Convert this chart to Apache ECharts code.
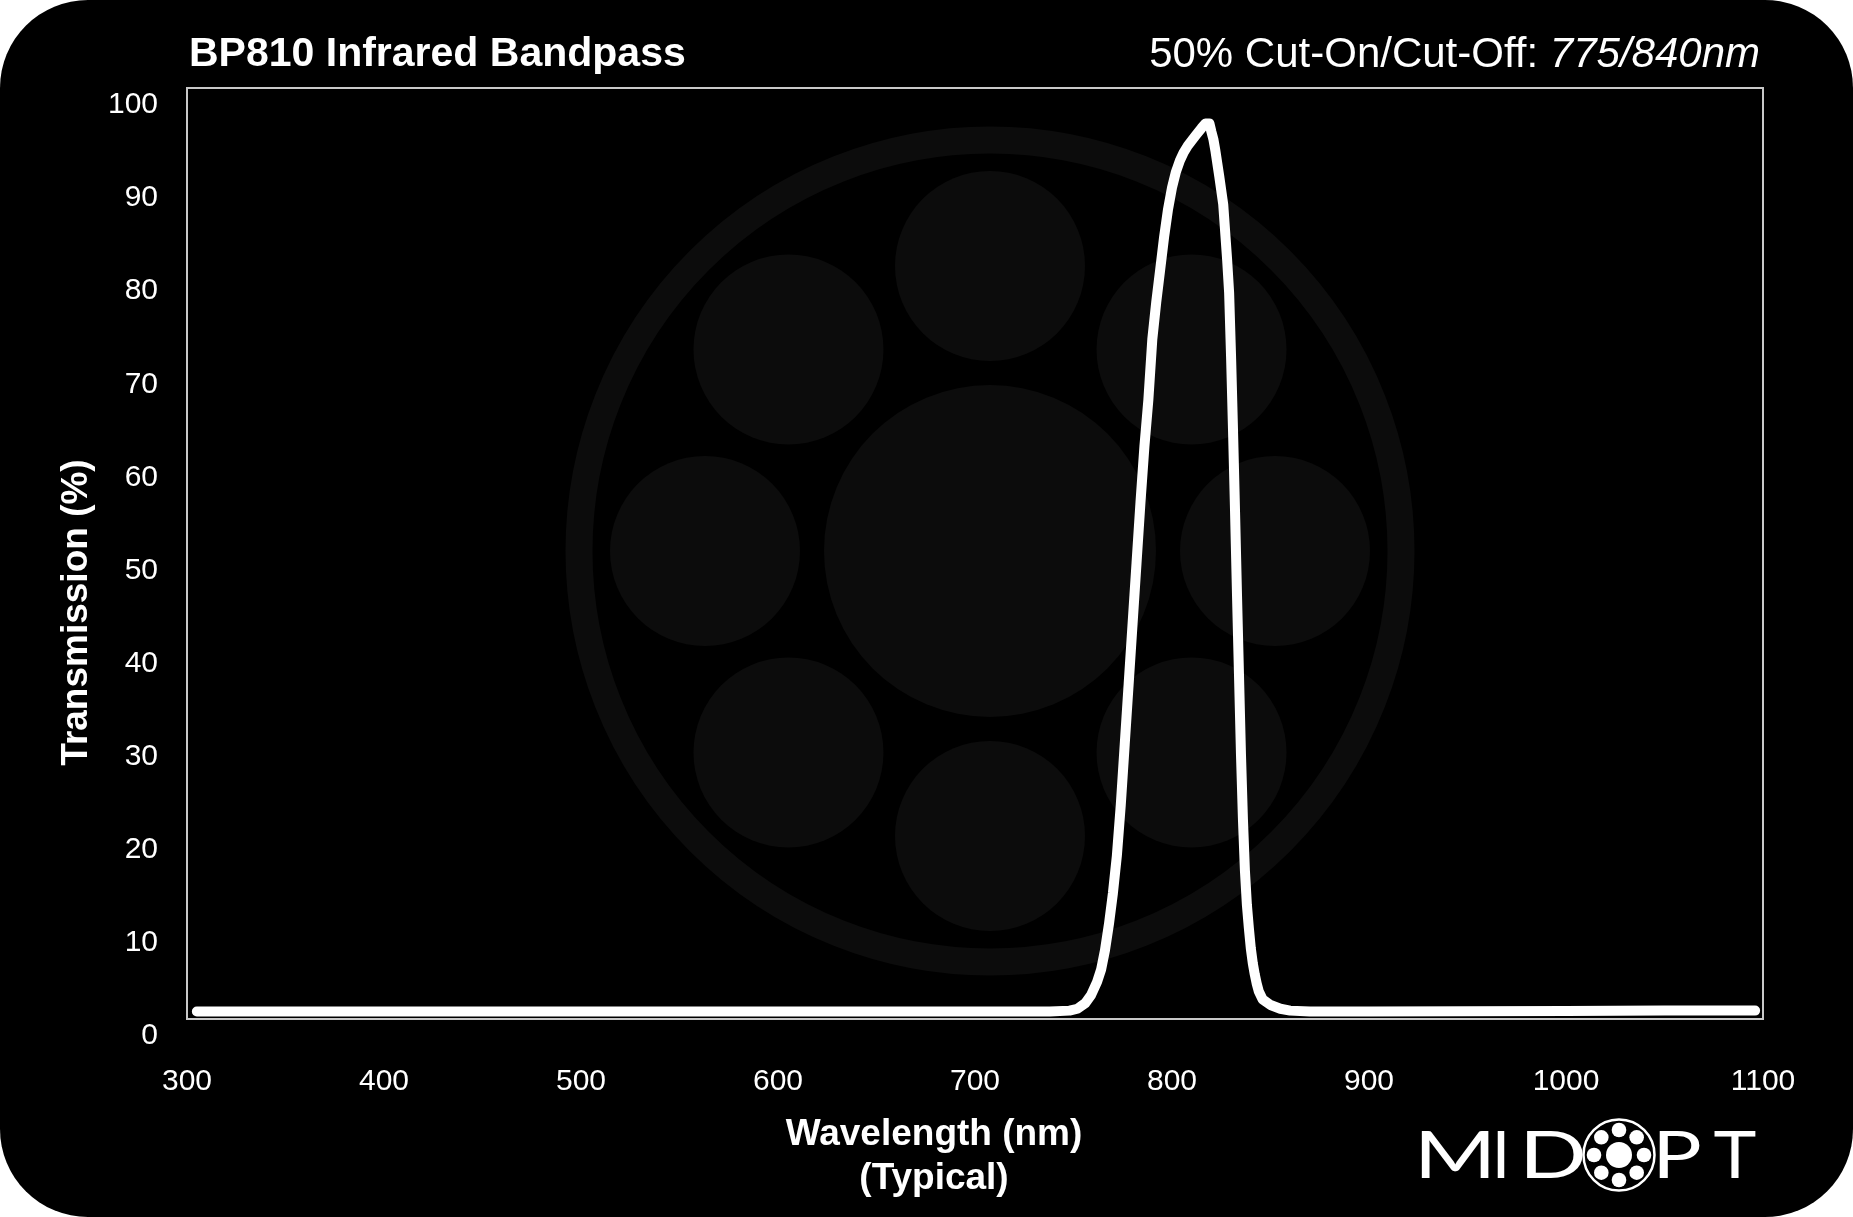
<!DOCTYPE html>
<html>
<head>
<meta charset="utf-8">
<title>BP810 Infrared Bandpass</title>
<script src="https://cdn.jsdelivr.net/npm/echarts@6/dist/echarts.min.js"></script>
<style>
  html, body { margin: 0; padding: 0; background: #fff; }
  #chart { width: 1853px; height: 1217px; background: #000; border-radius: 88px; overflow: hidden; }
</style>
</head>
<body>
<div id="chart"></div>
<script>
// transmission curve
var wavelength = [305, 400, 500, 600, 700, 738, 748, 752, 756, 759, 762, 764, 766, 768, 770,
  772, 774, 776, 778, 780, 782, 784, 786, 788, 790, 792, 794, 796, 798, 800, 802, 804, 806,
  808, 812, 815, 817, 818, 819, 820, 821, 822, 824, 826, 828, 829, 830, 831, 832, 833, 834,
  835, 836, 837, 838, 839, 840, 841, 842, 843, 844, 846, 850, 855, 860, 870, 900, 1000, 1050, 1096];
var transmission = [0.8, 0.8, 0.8, 0.8, 0.8, 0.8, 0.9, 1.1, 1.7, 2.6, 4.0, 5.3, 7.4, 10.2, 13.5,
  17.5, 23, 29.5, 36, 42.5, 49, 55.5, 61.5, 66.5, 73, 77, 80.5, 84, 87, 89.3, 91, 92.2, 93.1,
  93.8, 94.9, 95.7, 96.2, 96.4, 96.2, 95.3, 94.5, 93.3, 90.5, 87.5, 81.5, 78, 71, 63, 54.5, 45.5, 37,
  28.5, 21.5, 16, 12.3, 9.8, 7.6, 6.0, 4.8, 3.8, 3.0, 2.1, 1.5, 1.1, 0.9, 0.8, 0.8, 0.85, 0.9, 0.9];
var xTicks = [300, 400, 500, 600, 700, 800, 900, 1000, 1100];
var yTicks = [0, 10, 20, 30, 40, 50, 60, 70, 80, 90, 100];

var font = "'Liberation Sans', Arial, sans-serif";
var wm = '#0c0c0c';

// faint lens watermark behind the plot
var wmCx = 990, wmCy = 551;
var watermark = [
  { type: 'circle', z: 0, shape: { cx: wmCx, cy: wmCy, r: 411 }, style: { fill: 'none', stroke: wm, lineWidth: 27 } },
  { type: 'circle', z: 0, shape: { cx: wmCx, cy: wmCy, r: 166 }, style: { fill: wm } }
];
for (var i = 0; i < 8; i++) {
  var a = -Math.PI / 2 + i * Math.PI / 4;
  watermark.push({ type: 'circle', z: 0, shape: { cx: wmCx + 285 * Math.cos(a), cy: wmCy + 285 * Math.sin(a), r: 95 }, style: { fill: wm } });
}

// MIDOPT logo, bottom right
var lgCx = 1619, lgCy = 1155;
var logo = [
  { type: 'circle', shape: { cx: lgCx, cy: lgCy, r: 35.5 }, style: { fill: 'none', stroke: '#fff', lineWidth: 2.5 } },
  { type: 'circle', shape: { cx: lgCx, cy: lgCy, r: 13 }, style: { fill: '#fff' } }
];
for (var j = 0; j < 8; j++) {
  var b = -Math.PI / 2 + j * Math.PI / 4;
  logo.push({ type: 'circle', shape: { cx: lgCx + 25 * Math.cos(b), cy: lgCy + 25 * Math.sin(b), r: 7.3 }, style: { fill: '#fff' } });
}
[['M', 1455, 1.35], ['I', 1501, 1], ['D', 1553, 1.35], ['P', 1677, 1.25], ['T', 1735, 1.1]].forEach(function (l) {
  logo.push({ type: 'text', x: l[1], y: lgCy + 2, scaleX: l[2],
    style: { text: l[0], fill: '#fff', font: 'normal 66px Lato, sans-serif', align: 'center', verticalAlign: 'middle' } });
});

var chart = echarts.init(document.getElementById('chart'));
chart.setOption({
  animation: false,
  backgroundColor: 'transparent',
  title: [
    { text: 'BP810 Infrared Bandpass', left: 184, top: 29,
      textStyle: { color: '#fff', fontFamily: font, fontWeight: 'bold', fontSize: 41 } },
    { text: '{a|50% Cut-On/Cut-Off: }{b|775/840nm}', right: 88, top: 29,
      textStyle: { rich: {
        a: { color: '#fff', fontFamily: font, fontSize: 42, fontWeight: 'normal' },
        b: { color: '#fff', fontFamily: font, fontSize: 42, fontWeight: 'normal', fontStyle: 'italic' }
      } } }
  ],
  grid: { left: 187, right: 90, top: 88, bottom: 198, show: true, borderColor: '#c8c8c8', borderWidth: 2, backgroundColor: 'transparent' },
  xAxis: {
    type: 'value', min: xTicks[0], max: xTicks[xTicks.length - 1], interval: 100,
    name: 'Wavelength (nm)\n(Typical)', nameLocation: 'middle', nameGap: 94,
    nameTextStyle: { color: '#fff', fontFamily: font, fontWeight: 'bold', fontSize: 37, lineHeight: 44, padding: [0, 82, 0, 0] },
    axisLine: { show: false }, axisTick: { show: false }, splitLine: { show: false },
    axisLabel: { color: '#fff', fontFamily: font, fontSize: 30, margin: 48, formatter: function (v) { return String(v); } }
  },
  yAxis: {
    type: 'value', min: yTicks[0], max: yTicks[yTicks.length - 1], interval: 10,
    name: 'Transmission (%)', nameLocation: 'middle', nameGap: 92,
    nameTextStyle: { color: '#fff', fontFamily: font, fontWeight: 'bold', fontSize: 37, padding: [0, 118, 0, 0] },
    axisLine: { show: false }, axisTick: { show: false }, splitLine: { show: false },
    axisLabel: { color: '#fff', fontFamily: font, fontSize: 30, margin: 29, verticalAlign: 'top', lineHeight: 34 }
  },
  graphic: watermark.concat(logo),
  series: [{
    type: 'line',
    data: wavelength.map(function (w, k) { return [w, transmission[k]]; }),
    symbol: 'none',
    z: 5,
    lineStyle: { color: '#fff', width: 10, cap: 'round', join: 'round' }
  }]
});
</script>
</body>
</html>
